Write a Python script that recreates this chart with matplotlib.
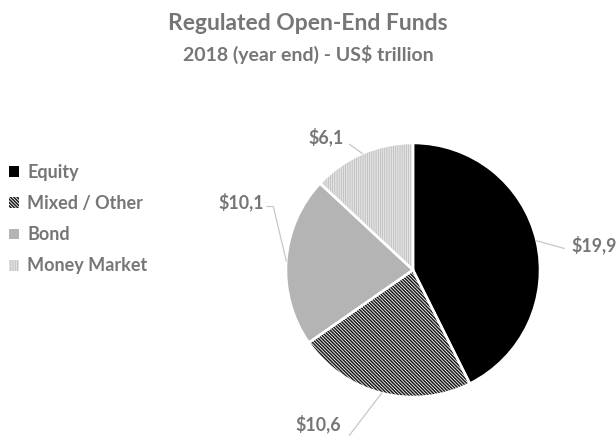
import numpy as np
import matplotlib
matplotlib.use("Agg")
import matplotlib.pyplot as plt
from matplotlib.patches import Patch

categories = ["Equity", "Mixed / Other", "Bond", "Money Market"]
values = [19.9, 10.6, 10.1, 6.1]
value_labels = ["$19,9", "$10,6", "$10,1", "$6,1"]
title = "Regulated Open-End Funds"
subtitle = "2018 (year end) - US$ trillion"

face = ["#000000", "#ffffff", "#b4b4b4", "#f6f6f6"]
hatches = [None, "\\" * 10, None, "|" * 9]
hatch_cols = ["#000000", "#1a1a1a", "#b4b4b4", "#c4c4c4"]
hatch_lw = [1.0, 1.1, 1.0, 0.9]
txt = "#767676"

plt.rcParams["font.family"] = ["Lato", "DejaVu Sans"]
plt.rcParams["hatch.linewidth"] = 1.1

W, H = 616, 440
fig = plt.figure(figsize=(W / 100, H / 100), dpi=100)
cx, cy, R = 413, 270, 127
ax = fig.add_axes([(cx - R) / W, (H - cy - R) / H, 2 * R / W, 2 * R / H])
ax.axis("off")


def set_hlw(p, lw):
    try:
        p.set_hatch_linewidth(lw)
    except Exception:
        p._hatch_linewidth = lw


wedges, _ = ax.pie(values, colors=face, startangle=90, counterclock=False,
                   radius=1, wedgeprops=dict(linewidth=0))
hw, _ = ax.pie(values, startangle=90, counterclock=False, radius=1,
               wedgeprops=dict(facecolor="none", linewidth=0))
for w, h, c, lw in zip(hw, hatches, hatch_cols, hatch_lw):
    w.set_hatch(h)
    w.set_edgecolor(c)
    w.set_linewidth(0)
    set_hlw(w, lw)
bw, _ = ax.pie(values, startangle=90, counterclock=False, radius=1,
               wedgeprops=dict(facecolor="none", edgecolor="white", linewidth=1.8))
for w in bw:
    w.set_clip_on(False)
ax.set_xlim(-1, 1)
ax.set_ylim(-1, 1)
ax.set_aspect("equal")

# labels with leader lines (positions in pie units)
label_pos = [(1.245, 0.195), (-0.57, -1.215), (-1.175, 0.535), (-0.545, 1.045)]
paths = [[(1.19, 0.17)], [(-0.5, -1.3)], [(-1.1, 0.5), (-1.15, 0.5)],
         [(-0.5, 0.99)]]
aligns = ["left", "right", "right", "right"]
total = sum(values)
start = 90.0
for v, lab, pos, extra, al in zip(values, value_labels, label_pos, paths, aligns):
    span = v / total * 360
    mid = np.deg2rad(start - span / 2)
    start -= span
    pts = [(np.cos(mid), np.sin(mid))] + extra
    xs, ys = zip(*pts)
    ax.plot(xs, ys, color="#c8c8c8", lw=0.9, clip_on=False)
    ax.text(pos[0], pos[1], lab, ha=al, va="center", fontsize=12.8,
            fontweight="bold", color=txt, clip_on=False)

fig.text(0.5, 1 - 23 / H, title, ha="center", va="center", fontsize=16.5,
         fontweight="bold", color=txt)
fig.text(0.5, 1 - 54 / H, subtitle, ha="center", va="center", fontsize=14,
         fontweight="bold", color=txt)

handles = [Patch(facecolor=f, edgecolor=hc, hatch=h, linewidth=0)
           for f, h, hc in zip(face, hatches, hatch_cols)]
leg = fig.legend(handles, categories, loc="upper left",
                 bbox_to_anchor=(2 / W, 1 - 157 / H), frameon=False,
                 handlelength=0.55, handleheight=0.55, handletextpad=0.45,
                 labelspacing=0.78, borderaxespad=0, fontsize=13)
for t in leg.get_texts():
    t.set_color(txt)
    t.set_fontweight("bold")
for p, lw in zip(leg.legend_handles, hatch_lw):
    set_hlw(p, lw)

fig.savefig("out.png", dpi=100, facecolor="white")
